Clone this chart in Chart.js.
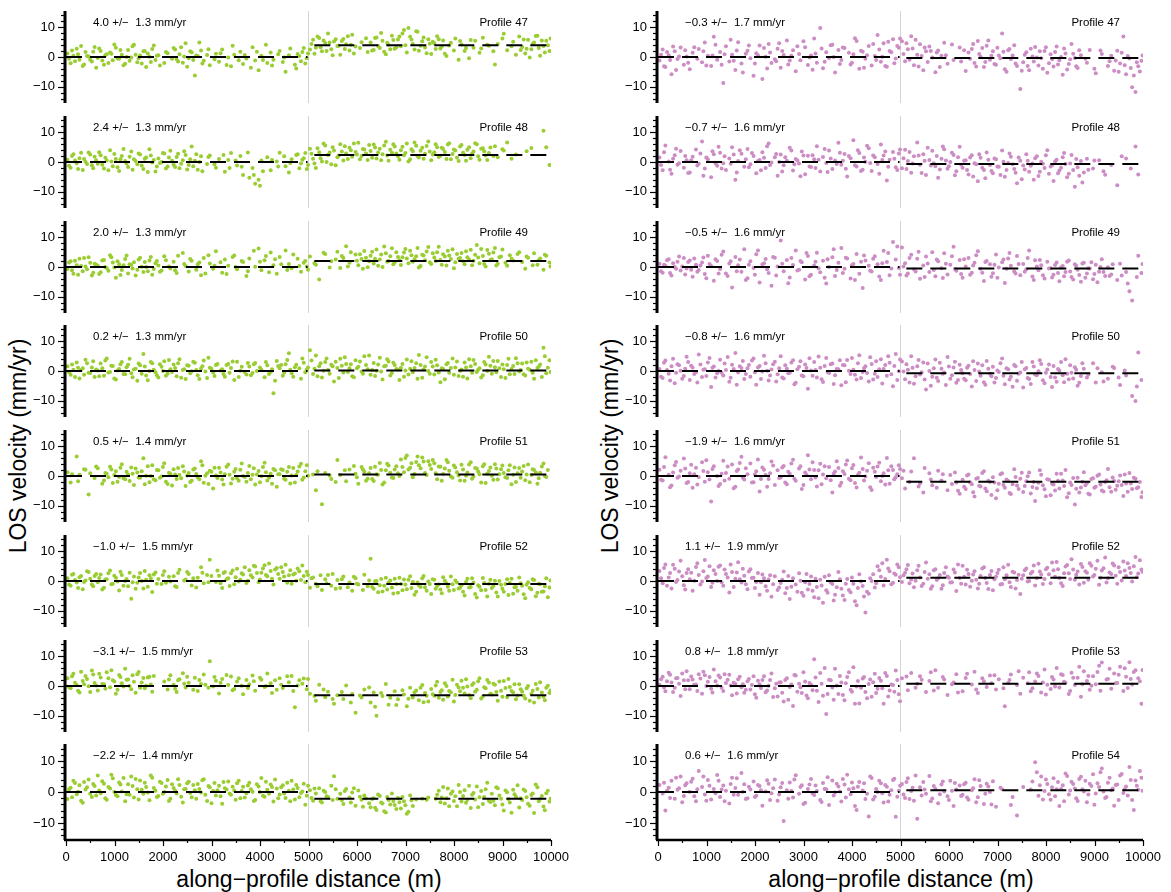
<!DOCTYPE html>
<html>
<head>
<meta charset="utf-8">
<script src="https://cdn.jsdelivr.net/npm/chart.js@4.4.1/dist/chart.umd.min.js"></script>
<style>
  body { margin: 0; background: #fff; width: 1171px; height: 892px; position: relative; overflow: hidden;
         font-family: "Liberation Sans", Arial, sans-serif; color: #000; }
  canvas { position: absolute; }
  .ytitle { position: absolute; font-size: 23px; white-space: nowrap; transform: translate(-50%, -50%) rotate(-90deg); }
  .xtitle { position: absolute; font-size: 23px; white-space: nowrap; transform: translate(-50%, -50%); }
</style>
</head>
<body>
<div class="ytitle" style="left:18px; top:446px">LOS velocity (mm/yr)</div>
<div class="ytitle" style="left:610px; top:446px">LOS velocity (mm/yr)</div>
<div class="xtitle" style="left:309px; top:879px">along−profile distance (m)</div>
<div class="xtitle" style="left:901px; top:879px">along−profile distance (m)</div>

<script>
/* ================= DATA ================= */
const profiles = [47, 48, 49, 50, 51, 52, 53, 54];

// step across x = 5000 m (right mean minus left mean), mm/yr
const greenStep  = [4.0, 2.4, 2.0, 0.2, 0.5, -1.0, -3.1, -2.2];
const greenError = [1.3, 1.3, 1.3, 1.3, 1.4, 1.5, 1.5, 1.4];
const pinkStep   = [-0.3, -0.7, -0.5, -0.8, -1.9, 1.1, 0.8, 0.6];
const pinkError  = [1.7, 1.6, 1.6, 1.6, 1.6, 1.9, 1.8, 1.6];

const yTickLabels = [-10, 0, 10];
const yMinorTicks = [-14, -12, -8, -6, -4, -2, 2, 4, 6, 8, 12, 14];
const xTickLabels = [0, 1000, 2000, 3000, 4000, 5000, 6000, 7000, 8000, 9000, 10000];
const xMinorTicks = [500, 1500, 2500, 3500, 4500, 5500, 6500, 7500, 8500, 9500];

// along-profile distance of the sampled points (m), two interleaved sets
const distance = [
  30, 96, 152, 221, 278, 345, 402, 466, 533, 590,
  655, 714, 783, 840, 908, 965, 1028, 1096, 1151, 1220,
  1280, 1346, 1401, 1470, 1527, 1596, 1652, 1721, 1778, 1845,
  1905, 1970, 2026, 2095, 2152, 2219, 2281, 2340, 2409, 2466,
  2530, 2591, 2657, 2716, 2784, 2840, 2909, 2965, 3034, 3091,
  3155, 3220, 3276, 3345, 3402, 3469, 3526, 3595, 3651, 3720,
  3780, 3846, 3901, 3971, 4028, 4094, 4151, 4220, 4277, 4346,
  4405, 4470, 4527, 4596, 4652, 4719, 4776, 4845, 4902, 4965,
  5030, 5094, 5152, 5221, 5277, 5345, 5402, 5470, 5526, 5595,
  5655, 5719, 5776, 5845, 5901, 5970, 6027, 6094, 6151, 6220,
  6280, 6344, 6402, 6470, 6526, 6595, 6651, 6720, 6777, 6845,
  6905, 6969, 7027, 7095, 7151, 7220, 7276, 7345, 7402, 7470,
  7530, 7594, 7652, 7720, 7776, 7845, 7901, 7970, 8027, 8095,
  8155, 8219, 8276, 8345, 8402, 8470, 8526, 8595, 8652, 8720,
  8780, 8844, 8902, 8970, 9026, 9095, 9151, 9220, 9277, 9345,
  9405, 9469, 9527, 9595, 9651, 9720, 9776, 9845, 9902, 9968
];
const distanceB = [
  63, 124, 186, 249, 311, 373, 434, 499, 561, 622,
  684, 748, 811, 874, 936, 996, 1062, 1123, 1186, 1249,
  1312, 1373, 1436, 1498, 1561, 1624, 1686, 1749, 1811, 1874,
  1937, 1998, 2061, 2123, 2186, 2250, 2311, 2374, 2437, 2498,
  2561, 2624, 2686, 2750, 2812, 2874, 2937, 2999, 3062, 3123,
  3187, 3248, 3311, 3373, 3436, 3497, 3561, 3623, 3686, 3750,
  3812, 3873, 3936, 3999, 4061, 4122, 4186, 4248, 4311, 4375,
  4437, 4498, 4562, 4624, 4686, 4747, 4811, 4873, 4934, 4990,
  5062, 5123, 5186, 5249, 5311, 5373, 5436, 5498, 5561, 5625,
  5687, 5748, 5811, 5873, 5936, 5998, 6061, 6122, 6186, 6250,
  6312, 6373, 6436, 6498, 6561, 6623, 6686, 6749, 6811, 6875,
  6937, 6998, 7061, 7123, 7186, 7248, 7311, 7373, 7436, 7500,
  7562, 7623, 7686, 7748, 7811, 7873, 7936, 7998, 8061, 8125,
  8187, 8248, 8311, 8373, 8436, 8498, 8561, 8623, 8686, 8750,
  8812, 8873, 8936, 8998, 9061, 9123, 9186, 9248, 9311, 9375,
  9437, 9498, 9561, 9623, 9686, 9748, 9811, 9873, 9935, 9990
];

// LOS velocity (mm/yr), left column: values at distance, then at distanceB
const green47 = [
  1.2, -2.1, 0.4, 2.8, -0.9, -3.0, 1.7, 0.2, -1.5, 3.4,
  -0.3, 2.0, -2.6, 0.9, 1.5, -1.1, 3.1, -0.6, 0.8, -2.3,
  2.4, -0.2, 4.1, -1.8, 0.5, 1.9, -3.4, 0.1, 2.7, -1.0,
  0.6, null, -2.0, 1.3, null, 3.0, -0.8, 0.9, -1.9, 4.6,
  -0.4, 1.6, -6.2, 0.3, 2.2, -1.3, 0.7, -2.8, null, 1.1,
  -1.6, 2.5, null, -0.2, -3.1, 0.8, null, 1.8, -2.4, -0.5,
  null, 3.3, -1.2, -4.5, 0.4, null, -2.0, 1.5, -0.9, null,
  2.0, -1.7, -5.0, 0.6, null, -2.6, 1.0, -1.4, 3.0, -0.4,
  2.5, 5.8, 3.1, 6.4, 1.9, 4.7, 7.9, 2.6, 5.2, 3.7,
  0.8, 6.1, 4.3, 2.2, 7.5, 3.5, null, 5.0, null, 1.7,
  4.9, 2.4, 6.6, 3.0, 5.5, 0.9, 4.1, 7.2, 2.8, 5.9,
  3.6, 9.1, 1.5, 6.8, 4.4, 8.7, 2.1, 5.3, 3.2, 6.0,
  1.0, 4.6, 7.0, 2.9, 5.6, 0.3, 3.9, null, 6.2, -0.9,
  4.2, 2.0, null, 5.7, 3.1, null, 1.4, 6.5, null, 3.8,
  null, -2.5, 4.4, null, 7.8, 2.3, null, 5.1, 0.8, 6.9,
  3.4, 1.2, 5.8, 2.6, 4.9, 7.2, 0.4, 3.7, 5.5, 2.0
];
const green47b = [
  -0.6, 2.2, -1.4, 0.9, 3.7, -2.5, 0.3, -0.9, 1.8, -3.6,
  2.9, -1.2, 0.6, -2.0, 1.1, 4.2, -0.5, 2.4, -2.8, 0.0,
  -1.3, 3.6, 0.8, -0.4, -2.2, 2.0, 1.2, -1.7, 3.9, 0.4,
  -2.9, null, 1.7, null, -0.6, 2.5, -1.5, 3.3, 0.2, -3.3,
  1.9, -1.0, 0.5, 4.9, -2.2, null, 2.6, null, -0.8, null,
  1.3, null, -2.7, null, 3.8, null, -1.1, null, 0.7, null,
  -3.6, null, 1.8, null, -1.0, 4.1, null, -2.9, null, 0.9,
  null, -0.2, null, 2.9, null, -3.9, 0.3, 1.7, -2.2, 1.2,
  4.4, 1.1, 6.9, 3.3, 5.6, 2.0, 4.9, 0.6, 6.0, 3.8,
  5.4, 2.7, 7.0, 4.1, 1.2, null, 3.0, null, 6.3, null,
  2.2, 6.4, 3.7, 8.1, 1.8, 4.8, 2.6, 5.7, 3.3, 6.9,
  7.9, 4.0, 9.8, 5.9, 2.5, 8.5, 3.8, 6.6, 1.3, 4.5,
  5.1, 2.7, 6.0, 3.5, 1.1, null, 4.8, 2.2, null, 5.4,
  null, 3.0, -0.4, null, 5.5, null, 2.9, null, 4.1, null,
  1.9, null, null, 6.2, null, null, 3.6, null, null, 2.4,
  5.9, 2.8, -0.2, 4.4, 7.1, 3.0, 5.6, 1.5, 4.0, 6.2
];
const green48 = [
  0.8, -1.9, 2.6, -0.4, 1.3, -2.7, 0.1, 3.2, -1.1, 1.8,
  -0.6, 2.3, -2.2, 0.5, 4.0, -1.4, 1.0, -3.0, 2.0, 0.3,
  -1.7, 3.5, 0.9, -0.8, 2.5, -2.4, 1.5, 4.3, -0.2, -3.2,
  1.2, 0.0, 2.9, -1.5, 3.8, -0.9, 1.7, -2.1, 0.6, 2.4,
  -1.0, 5.2, 0.4, -2.6, 1.9, null, -0.7, 2.2, null, -1.9,
  1.0, null, -3.3, 0.7, 3.0, null, -1.2, 2.0, -4.4, null,
  -5.3, -2.0, -7.3, -6.0, 0.5, null, 1.6, -2.8, null, 0.2,
  3.1, null, -1.4, -3.5, 0.9, null, 2.6, -0.5, 1.3, -2.4,
  4.5, 1.1, -2.0, 3.3, 0.2, 5.6, 2.4, -0.8, 3.9, 1.6,
  6.0, 0.5, 2.9, 4.8, 1.8, 3.4, 6.5, 2.0, 4.2, 0.7,
  3.7, 5.9, 1.2, 4.5, 2.6, 6.8, 0.4, 3.1, 5.2, 1.9,
  4.0, 2.3, 6.2, 0.9, 3.6, 5.5, 1.5, 4.8, 2.8, 6.9,
  0.6, 3.3, 5.0, 2.1, 4.4, 1.0, 6.3, 2.7, 3.9, 0.3,
  5.7, 2.4, 4.1, 1.3, 3.5, 6.0, 0.8, 4.6, 2.2, 3.0,
  null, 5.3, 1.6, null, 3.9, 6.6, null, null, 2.5, null,
  null, null, null, 4.7, null, null, null, 10.5, 5.0, -1.0
];
const green48b = [
  -1.3, 2.0, 0.5, -2.4, 3.1, 1.0, -0.7, 2.5, -2.1, 0.6,
  3.3, -0.9, 1.4, -2.8, 0.2, 2.7, -1.8, 0.9, 4.4, -0.5,
  1.8, -2.6, 0.3, 2.9, -1.2, 1.1, -3.4, 2.2, 0.7, -1.5,
  -0.3, 3.0, -2.2, 1.5, 0.4, -1.7, 2.8, -0.6, 3.6, -2.5,
  0.9, -1.4, 2.6, 0.0, -3.1, null, 1.7, null, -0.8, null,
  null, 2.4, null, -2.0, null, 0.5, null, -1.6, null, 3.2,
  null, -4.4, null, -8.0, -3.1, null, null, 0.7, null, -1.5,
  null, 1.9, null, -0.3, null, 2.4, -2.1, 0.8, 3.0, -1.0,
  2.8, -0.5, 4.6, 1.3, 6.2, 0.0, 3.2, 5.0, -1.1, 2.2,
  3.5, 5.3, 1.0, 4.0, 6.2, 2.5, 0.9, 4.4, 2.9, 5.7,
  1.4, 4.9, 3.2, 0.6, 5.6, 2.2, 4.1, 6.0, 2.9, 0.8,
  5.1, 3.0, 0.2, 4.3, 6.6, 2.0, 3.8, 1.1, 5.4, 3.5,
  2.5, 6.0, 1.7, 4.8, 3.4, 5.9, 0.9, 4.2, 1.5, 5.2,
  3.1, 0.4, 5.0, 2.8, 6.3, 1.9, 4.5, 3.6, 0.7, 4.9,
  2.0, null, null, 4.3, null, null, 1.1, null, null, null,
  null, 3.6, null, null, null, null, null, null, null, null
];
const green49 = [
  -0.7, 1.9, -2.3, 0.6, 2.8, -1.4, 0.2, 3.3, -2.9, 1.1,
  0.4, -1.8, 2.4, -0.3, 4.0, 1.5, -3.6, 0.9, -1.0, 2.7,
  -2.2, 0.7, 1.6, -0.9, 3.1, -1.7, 0.0, 2.2, -2.6, 1.3,
  0.5, -1.2, 3.6, null, -0.5, 1.8, -2.0, null, 4.7, 0.3,
  -1.5, 2.1, null, 0.9, -2.8, 3.0, null, 1.2, -0.6, 5.3,
  null, -1.9, 2.5, 0.4, null, 3.9, -0.8, null, 1.7, -3.0,
  2.9, null, 0.1, 6.2, -1.1, 2.3, null, 4.9, 0.6, -2.3,
  3.4, null, 5.6, 1.0, -0.4, null, 2.8, -1.6, 1.4, 0.2,
  3.5, null, 0.8, -4.2, null, 4.4, null, 1.9, null, 5.1,
  -0.3, 3.0, 7.0, 1.4, null, 4.2, 0.6, 2.7, 5.4, -0.1,
  3.8, 1.2, 5.9, 2.5, 0.0, 4.6, 2.0, 6.3, 1.5, 3.4,
  0.7, 4.9, 2.9, 5.5, 1.8, 3.6, -0.2, 4.1, 2.3, 6.7,
  1.0, 3.2, 5.0, 2.4, 4.3, 0.5, 3.9, 6.0, 1.6, 2.8,
  4.7, 0.9, 3.3, 5.8, 2.1, 7.4, 1.3, 3.7, 0.2, 4.5,
  2.6, 6.4, 1.1, 3.5, null, 0.4, 4.0, 2.2, null, 5.0,
  1.7, -0.6, 3.1, null, 4.6, 0.8, 2.9, -0.9, 3.8, 1.5
];
const green49b = [
  1.5, -1.1, 2.1, -2.6, 0.3, 3.0, -0.8, 1.4, -1.9, 0.8,
  -2.4, 2.2, 0.0, -1.3, 3.3, -0.2, 1.9, -2.7, 0.6, 3.9,
  0.9, -0.5, -2.9, 2.5, 0.1, 1.7, -1.4, 3.4, -0.7, 2.0,
  -1.6, null, 2.3, 0.2, null, -1.1, 3.8, null, 1.0, null,
  2.7, null, -0.9, 1.5, null, -2.2, 4.0, null, 0.4, null,
  1.6, null, -2.4, null, 3.4, 0.0, null, 2.0, null, -1.4,
  null, 5.5, null, 1.8, null, 3.7, -1.8, null, 2.6, null,
  0.9, null, -1.0, null, 4.2, null, 0.3, null, 2.0, -0.9,
  null, 1.3, null, null, 4.8, null, -0.2, null, 2.5, null,
  3.7, null, 0.2, 5.0, null, 2.1, 4.3, -0.6, 3.1, 1.9,
  5.1, 2.8, 0.4, 4.2, 6.9, 1.8, 3.6, 0.9, 5.0, 2.3,
  3.3, 6.1, 1.3, 4.0, 2.6, 6.4, 0.3, 3.9, 5.2, 1.6,
  4.6, 2.0, 6.8, 0.8, 3.5, 5.5, 2.7, -0.4, 4.4, 3.0,
  1.9, 5.3, 2.5, 0.6, 4.1, 3.2, 6.1, 1.0, 5.7, 2.4,
  4.9, 0.5, 3.3, 5.9, 1.4, null, 2.8, null, 4.4, null,
  null, 3.5, null, 0.6, null, 2.4, null, 4.1, null, 0.2
];
const green50 = [
  1.6, -1.3, 0.4, 2.9, -2.5, 0.9, 3.8, -0.6, 1.2, -2.0,
  0.2, 2.5, -1.6, 4.2, -0.3, 1.7, -2.9, 0.7, 3.0, -1.1,
  2.1, -0.8, 0.5, -3.3, 1.9, 5.7, -1.5, 0.0, 2.6, -0.4,
  -2.2, 1.4, 3.3, -0.9, 0.6, 2.2, -1.8, 4.0, 0.3, -2.7,
  1.8, -0.1, 2.8, -1.4, 0.8, 3.5, -2.4, 1.1, -0.5, 2.0,
  null, 0.6, -1.9, 2.4, 1.0, -3.0, 3.1, 0.1, null, -1.2,
  1.5, -0.7, 2.7, null, 0.4, -2.1, 1.9, -0.3, -7.5, 3.4,
  0.9, -1.6, 2.3, 6.0, -0.8, 1.3, null, -2.6, 2.8, 0.5,
  7.0, -1.0, 5.2, 1.6, -2.2, 3.0, 0.3, 2.1, -3.5, 1.0,
  4.1, -0.5, 2.4, 0.9, -1.8, 3.6, 1.4, -0.2, 5.0, 0.6,
  -1.3, 2.7, 0.1, 4.5, -2.9, 1.8, 3.2, -0.7, 2.0, 0.4,
  1.1, -1.9, 3.9, 0.8, -0.4, 2.6, 5.4, -2.3, 1.5, 0.0,
  3.0, -1.2, 1.9, -3.8, 0.7, 2.3, -0.6, 4.2, 1.2, -1.7,
  0.5, 2.9, -2.5, 1.6, 3.7, -0.3, 0.9, -1.4, 2.2, 4.8,
  -0.9, 1.3, 3.4, -2.0, 0.6, 2.0, -1.1, 1.7, 4.3, -0.2,
  2.5, -1.5, 0.8, 3.1, -2.6, 1.0, 2.2, 7.8, -0.8, 3.6
];
const green50b = [
  -0.4, 2.2, -2.0, 1.1, 0.3, -1.3, 2.6, -0.7, 3.3, 0.5,
  -1.8, 0.9, 3.5, -0.5, 1.8, -2.5, 0.2, 2.3, -1.0, 1.3,
  4.1, -2.1, 0.8, 2.5, -0.9, 1.5, -3.1, 3.0, 0.4, -1.4,
  2.3, 0.0, -1.6, 3.7, -0.3, 1.0, 2.6, -2.3, 0.6, 1.9,
  -0.8, 3.1, 0.3, -2.7, 1.6, -0.2, 4.5, 0.8, -1.7, 2.4,
  0.2, -1.0, 2.0, -0.6, 3.2, null, -2.0, 1.4, -0.3, 2.7,
  -1.4, 2.3, 0.0, 1.2, null, 3.0, -1.0, 0.6, -3.3, 1.7,
  2.0, -0.6, 3.7, 0.4, -1.9, 2.1, 0.9, 4.2, -0.4, 1.2,
  3.5, 0.8, -1.8, 2.6, 0.1, 4.2, -0.9, 1.6, 3.1, -2.4,
  1.8, 4.6, -0.3, 2.3, -2.1, 0.9, 3.2, -0.9, 2.0, 5.2,
  0.3, -1.7, 2.2, -0.2, 1.6, 4.0, -1.5, 2.8, 0.7, -3.0,
  2.4, 0.2, -1.2, 3.3, 1.0, -2.6, 2.0, 0.5, 4.6, -0.9,
  1.5, 3.8, -0.5, 0.9, -2.8, 2.7, 1.0, -1.3, 3.2, 0.1,
  -1.9, 1.2, 4.0, -0.6, 2.4, 0.4, -2.2, 3.0, 0.0, 1.8,
  3.4, -0.4, 0.9, 2.2, -2.4, 4.1, 0.7, -1.0, 2.6, 0.3,
  -1.1, 2.9, 0.4, -0.6, 3.6, 1.4, -2.0, 5.0, 1.1, -0.3
];
const green51 = [
  1.3, -2.2, null, 6.6, 0.4, null, 2.1, -6.2, null, -0.7,
  2.6, null, -1.5, 0.8, 3.1, -2.4, 1.6, -0.3, 4.0, -1.1,
  0.5, 2.9, -3.0, 1.2, -0.6, 6.0, 0.1, -2.1, 3.6, -1.4,
  1.9, -0.2, 4.3, -2.7, 0.7, 2.3, -1.0, 0.3, 3.3, -3.4,
  1.0, -1.6, 2.5, -0.4, 5.0, -2.3, 0.9, 1.8, -4.2, 0.2,
  2.8, -1.2, 0.6, 3.9, -2.5, 1.4, -0.8, 2.1, 0.0, -1.9,
  3.4, 0.4, -2.9, 1.7, -0.1, 4.5, -1.5, 0.8, 2.4, -3.6,
  0.6, 2.0, -1.3, 3.0, 0.2, -2.2, 1.5, 4.1, -0.5, 3.6,
  null, 0.5, -4.8, null, -9.5, 1.0, null, -1.0, null, 5.4,
  0.3, null, -1.8, 2.2, null, 0.8, -2.6, 3.0, 1.4, -0.9,
  2.7, -1.7, 0.6, 4.4, -2.9, 1.9, 3.5, -0.5, 2.2, 0.9,
  5.6, 1.3, 6.9, 2.8, -0.4, 4.7, 3.6, 6.2, 1.0, 5.0,
  2.4, 4.3, -1.1, 3.1, 0.7, 5.4, 1.8, -0.6, 2.9, 0.2,
  3.8, -1.6, 1.2, 4.6, -0.2, 2.5, 0.6, 3.3, -2.4, 1.7,
  0.1, 4.0, -1.2, 2.3, 1.0, -0.7, 3.6, 0.4, -2.0, 2.7,
  1.5, -1.4, 3.9, 0.3, 2.0, -2.6, 1.1, 4.2, -0.3, null
];
const green51b = [
  null, 0.6, null, -1.8, null, 2.3, null, 0.9, null, 3.2,
  null, -2.6, 1.0, -0.4, 2.2, 0.3, -1.9, 2.8, -0.8, 1.4,
  -1.7, 0.8, 2.5, -0.5, 1.6, -2.8, 3.3, 0.0, -1.1, 2.0,
  -0.6, 3.0, -1.9, 1.1, -3.2, 0.5, 2.7, -0.8, 1.5, 0.2,
  -2.0, 2.2, 0.7, -1.1, 3.6, 0.1, -2.7, 1.4, 2.8, -0.7,
  1.2, -2.9, 3.1, 0.4, -0.9, 2.4, -1.6, 4.2, -0.3, 1.0,
  -1.1, 2.6, 0.5, -2.1, 3.0, 1.3, -0.6, -2.6, 1.9, 0.6,
  2.3, -0.9, 1.4, -2.5, 2.7, 0.3, 3.2, -1.3, 1.6, 0.1,
  null, null, 1.6, null, null, null, 0.2, null, -2.0, null,
  null, 1.9, null, null, 3.4, -0.4, null, 2.2, -1.6, 0.9,
  -1.0, 3.1, 0.4, 2.0, -2.2, 4.1, 1.1, -0.7, 3.3, 0.0,
  3.0, 6.1, 2.2, 4.3, 0.7, 6.6, 2.6, 4.9, 0.3, 3.7,
  5.4, 0.9, 3.2, -1.6, 2.5, 4.6, -0.2, 3.5, 1.3, -1.5,
  2.2, 0.1, 3.9, -0.9, 2.7, 1.5, -2.2, 4.0, 0.8, 2.9,
  -1.3, 2.5, 0.6, 3.5, -0.4, 1.9, -2.8, 2.9, 0.9, -0.6,
  3.4, 0.5, -2.1, 2.3, 1.2, -0.8, 3.2, 0.0, 2.0, null
];
const green52 = [
  0.9, -1.6, 2.4, -0.5, 1.3, -2.8, 0.2, 3.0, -1.2, 1.7,
  -0.4, 2.2, -2.3, 0.6, 3.5, -0.9, 1.1, -3.2, 2.0, 0.0,
  -1.8, -6.0, 1.5, -0.6, 2.7, -2.5, 0.4, 1.9, -3.7, 2.9,
  0.7, -1.0, 3.3, null, -0.2, 1.6, -2.0, 3.8, null, 0.5,
  2.4, -1.5, null, 1.1, 4.6, -0.8, 2.0, 7.2, null, -0.3,
  1.8, -2.4, 3.0, 0.9, 2.6, -1.1, 4.1, 0.4, 2.2, -0.7,
  3.6, 1.2, 4.9, -0.4, 2.8, 5.3, 1.6, 3.4, -1.2, 4.4,
  0.8, 3.0, 5.5, 1.9, -0.9, 2.5, 4.2, 0.3, 1.7, 3.1,
  -2.3, 1.2, -0.9, null, -3.0, 0.6, 2.0, -1.6, null, 0.3,
  -2.4, 1.5, null, -0.5, -3.3, 0.9, -1.2, null, 2.1, -1.8,
  7.5, -2.6, 0.0, -1.4, -3.5, 1.1, -0.6, -2.2, 0.8, -4.0,
  -1.0, 0.5, -2.8, 1.6, -0.3, -3.6, -1.5, 0.9, -2.1, -0.2,
  -4.4, 0.4, -1.7, -2.9, 1.3, -0.8, -3.3, -1.1, 0.2, -2.5,
  -1.4, -4.9, 0.8, -2.0, -0.5, -5.6, -1.9, 1.0, -3.0, -0.9,
  -2.4, 0.1, -5.2, -1.3, -3.6, 0.6, -0.7, -4.3, -2.0, 1.2,
  -1.6, -5.8, -0.4, -2.8, 0.3, -4.0, -1.1, -3.5, 0.9, -2.2
];
const green52b = [
  -1.2, 2.1, 0.3, -2.4, 1.7, -0.3, 3.3, 0.8, -1.8, 2.4,
  1.0, -2.9, 0.5, 2.6, -1.1, 1.8, -0.2, 3.1, -1.6, 0.7,
  2.8, -0.4, -2.6, 1.2, 0.0, 3.4, -1.9, 0.9, 2.2, -0.9,
  null, 2.0, -0.6, 1.4, null, -1.8, 2.7, null, 0.2, 3.0,
  null, 0.9, -2.2, null, 2.8, null, -0.4, 1.7, null, 3.5,
  -0.8, 2.7, 0.6, -1.7, 3.5, 1.3, -0.2, 2.6, 4.6, 0.1,
  1.9, 5.1, 2.7, 0.5, 4.2, 2.0, 5.9, 0.8, 3.9, 2.4,
  4.6, 1.5, -0.6, 3.6, 2.2, 0.1, 3.3, 5.2, -0.4, 2.0,
  0.9, null, -1.8, 1.9, null, -0.8, null, 2.4, -2.6, null,
  0.6, null, -2.1, null, 1.4, -0.9, null, -3.0, null, 0.2,
  -2.0, -0.1, -3.8, 0.7, -1.6, -2.9, 0.2, -4.2, -1.0, 1.1,
  -3.1, -1.2, 0.4, -2.4, -4.6, -0.5, -2.0, 1.7, -3.3, -1.0,
  0.6, -2.6, -1.1, -4.1, 0.1, -1.9, 1.5, -3.0, -0.5, -2.3,
  -3.6, -0.3, -2.2, 0.9, -4.4, -1.4, -3.1, -0.7, -5.2, 0.4,
  -1.7, -3.9, 0.0, -2.6, -1.0, -4.7, 0.8, -2.1, -3.3, -0.8,
  -4.5, -1.3, -2.4, 0.6, -5.1, -0.9, -3.6, -1.8, -5.5, 0.2
];
const green53 = [
  2.6, -0.8, 4.1, 0.3, -2.2, 1.7, 3.4, -0.1, 5.2, 1.0,
  -1.5, 2.9, 0.6, 4.6, -0.4, 1.9, -2.6, 3.7, 0.9, 5.8,
  2.2, -1.1, 1.4, 4.0, -0.6, 2.7, 0.1, 3.1, -1.9, null,
  null, null, 1.5, -1.2, 3.6, 0.4, -2.0, 2.3, 4.3, -0.5,
  1.1, null, 2.8, -1.7, 0.7, 3.9, null, 8.3, -0.2, 1.8,
  -2.5, 2.4, null, 0.3, 3.2, -1.0, 1.5, null, -2.8, 2.0,
  0.6, 3.5, -1.6, null, 2.1, -0.3, 4.2, 0.9, null, -1.3,
  2.6, -0.7, null, 1.3, 3.4, -7.2, 0.2, null, 2.5, -1.1,
  -2.6, null, -5.0, 0.4, null, -3.8, -1.9, null, -6.0, -3.1,
  null, -4.4, 0.2, null, -2.7, -9.0, null, -3.9, -1.2, null,
  -5.6, -2.2, -10.0, null, -3.4, 0.7, -6.3, null, -1.8, -4.5,
  null, -2.9, -6.8, -0.6, -3.9, -1.5, -4.8, 0.3, -2.4, -5.2,
  -1.0, -3.3, 1.4, -2.0, -4.6, 0.0, -1.7, 2.1, -3.0, -0.5,
  1.8, -2.5, -0.2, -4.1, 0.9, -1.3, 2.6, -3.5, -0.8, 1.2,
  -2.9, 0.4, -5.0, -1.6, 1.7, -3.8, -0.3, -2.2, -4.5, 0.6,
  -1.9, -4.2, 0.0, -2.7, -5.6, -1.0, 1.3, -3.6, -0.6, -2.4
];
const green53b = [
  -0.4, 3.3, 1.1, -1.6, 4.8, 0.6, 2.4, -2.0, 3.9, 0.2,
  4.1, 0.7, -0.9, 2.6, 5.3, 1.5, -1.3, 3.0, -0.2, 2.1,
  0.0, 3.6, -2.3, 4.7, 1.2, -0.8, 2.9, 0.5, 3.4, null,
  null, null, null, 2.2, null, -0.9, 1.9, null, 0.8, 3.1,
  null, -1.3, null, 2.0, null, 0.4, -0.6, null, 3.0, null,
  1.1, null, 3.7, null, -1.4, null, 2.6, 0.1, null, -0.7,
  null, 1.6, null, 2.8, null, 0.0, null, -2.4, 1.9, null,
  0.4, null, 3.3, null, -1.7, null, 1.9, 0.8, null, 2.4,
  null, -3.4, null, null, -1.2, null, null, -4.4, null, null,
  -2.0, null, null, -5.6, null, null, -3.2, null, null, -0.5,
  null, -7.0, null, -2.4, null, null, -4.0, null, -6.4, null,
  -1.4, null, -4.3, null, -2.1, null, -0.6, -5.5, -3.3, null,
  -2.8, 0.2, -4.0, -1.4, 0.9, -3.5, -2.1, -5.2, 0.4, -1.8,
  -0.6, 2.3, -3.0, 0.3, -1.9, 1.6, -4.2, -0.4, 2.0, -2.6,
  0.8, -2.0, 1.5, -3.6, -0.7, 2.4, -1.7, 0.6, -3.2, -1.1,
  -3.3, -0.8, -5.0, -1.6, 0.7, -3.9, -2.2, -4.8, 0.1, -1.5
];
const green54 = [
  -2.3, 1.4, 3.6, -0.7, 2.2, -3.5, 0.8, 4.0, -1.6, 1.9,
  5.3, -0.4, 2.7, -2.5, 1.1, 4.4, -1.0, 3.1, 0.2, -3.0,
  2.5, 5.0, -1.8, 0.9, 3.7, -0.6, 1.6, -2.7, 4.6, 0.4,
  -1.3, 2.9, 0.0, 3.9, -2.2, 1.3, -0.5, 2.3, -3.4, 1.0,
  3.3, -1.7, 0.6, 2.6, -0.2, 4.1, -2.9, 1.5, 0.3, -1.1,
  2.0, -3.8, 1.2, 3.4, -0.9, 0.5, 2.8, -2.0, 1.7, -0.4,
  3.0, 0.1, -2.6, 1.8, 4.5, -1.5, 0.7, 2.4, -3.1, 1.1,
  -0.8, 2.2, -1.9, 0.4, 3.6, -2.4, 1.3, -0.3, 2.7, -1.2,
  0.6, -2.8, -0.5, 1.2, -3.4, 0.0, -1.6, 2.0, 5.1, -2.2,
  -0.6, -3.9, 1.0, -1.8, -0.2, -4.4, 0.5, -2.5, -1.1, null,
  -4.9, -2.0, -5.8, -1.3, -3.7, -6.6, -2.6, -0.5, -4.2, -1.9,
  -5.3, -3.0, -7.0, -1.1, -4.5, -2.4, null, -2.2, null, -1.8,
  null, null, -0.9, -3.3, 1.6, -2.0, -4.6, 0.2, -1.4, 2.3,
  -3.1, 0.6, -2.5, -5.2, -0.3, 1.8, -1.7, -3.9, 0.9, -2.8,
  -0.6, -4.3, 1.2, -2.2, -6.0, -0.1, -3.4, 0.7, -1.5, -5.0,
  -2.6, 0.3, -3.8, -1.0, -6.8, 1.5, -2.3, -4.7, -0.4, -3.1
];
const green54b = [
  0.9, -1.7, 2.9, 0.1, -2.8, 3.2, 1.5, -0.6, 2.6, -1.1,
  0.5, 3.5, -2.0, 1.6, 5.6, 0.0, -1.4, 2.4, 4.5, -0.7,
  -0.9, 1.9, 4.2, -2.4, 0.7, 3.0, -0.2, 5.3, 1.3, -1.6,
  3.3, -0.6, 1.8, -2.9, 2.5, 0.4, 4.1, -1.5, 0.9, 2.8,
  -0.3, 2.3, -2.2, 1.0, 3.8, -0.9, 1.9, -3.6, 2.9, 0.6,
  -1.4, 3.2, 0.8, -0.5, 1.7, -2.5, 3.6, 0.3, -1.8, 2.1,
  0.9, -2.9, 2.5, 0.0, -1.2, 3.3, -0.6, 1.6, 4.0, -2.0,
  1.5, -0.5, 3.0, -3.0, 0.8, 2.3, -1.7, 0.2, -4.1, 2.0,
  -1.9, 1.1, null, -3.0, 0.4, -1.4, null, -2.6, 0.9, null,
  -2.7, 0.3, null, -3.4, 1.2, null, -1.5, -4.8, -2.1, -3.6,
  -2.3, -5.1, -0.8, -3.4, -6.2, -1.6, -4.0, -2.9, -5.5, -3.3,
  -1.6, -4.3, -6.4, -2.7, null, null, null, null, -2.5, null,
  null, -2.2, 0.4, -1.8, -3.7, 1.1, -0.6, -2.9, -4.6, 0.0,
  -1.3, -3.5, 2.0, -0.9, -2.4, -4.9, 0.3, -1.6, 3.0, -3.2,
  -2.8, 1.5, -1.1, -4.0, 0.5, -2.3, -6.7, -0.7, 2.2, -2.0,
  0.8, -1.7, -4.4, -0.5, 2.4, -3.0, -1.3, -5.9, 0.4, -2.2
];

// LOS velocity (mm/yr), right column: values at distance, then at distanceB
const pink47 = [
  -1.2, 2.5, -3.4, 0.6, -5.8, 1.9, -0.7, 3.2, -2.6, 0.2,
  -4.1, 1.4, null, 2.7, -1.8, 4.9, 0.4, -3.0, 6.8, -0.9,
  1.7, -8.8, 3.6, -1.5, 0.8, -4.4, 5.0, -2.2, null, 2.1,
  -0.4, -6.3, 1.3, 3.9, -7.4, 0.1, 4.4, -2.0, -0.8, 2.8,
  -3.6, 0.7, 5.6, -1.2, 2.3, -4.8, 1.0, null, 3.3, -2.7,
  0.5, 6.2, -1.9, 9.8, -3.8, 1.6, -0.3, 4.1, -5.2, 2.4,
  -1.0, 3.0, null, -2.5, 0.9, 5.4, -4.0, 1.8, -0.6, 3.7,
  -2.9, 0.3, 7.4, -1.6, 4.6, -3.3, 2.0, 6.0, -0.5, 3.1,
  5.3, -1.4, 2.6, 7.0, -2.8, 0.8, 4.3, -4.5, 1.9, 3.5,
  -0.2, -5.1, 2.2, 0.4, 4.8, -2.3, null, -1.0, null, 3.2,
  null, -4.7, 1.5, 2.7, -2.0, 5.4, 0.1, -3.4, 3.8, -0.9,
  1.9, -2.6, 0.5, 7.9, -4.1, 2.3, -0.7, 4.0, -3.0, -10.8,
  -1.8, 1.6, -4.5, 0.2, 3.4, -2.9, -0.4, 2.0, -5.3, 0.9,
  -3.2, 3.5, -1.1, -6.0, 1.2, -2.4, 4.4, -0.3, -3.7, 0.6,
  null, -1.9, 2.4, null, -5.5, null, 1.0, null, -3.0, 0.4,
  -4.6, 2.1, -2.2, 6.9, -5.8, -0.5, -10.2, -11.8, -3.1, -1.3
];
const pink47b = [
  0.8, -3.1, 1.7, -1.0, 3.5, -4.4, 0.2, null, 2.3, -1.9,
  null, 3.3, -0.6, null, 1.9, -2.9, null, 0.5, 4.1, null,
  -2.6, 0.9, null, 5.8, -1.3, 2.2, null, -5.2, 1.1, 3.9,
  null, -2.2, 0.6, null, 3.0, -3.9, 1.5, null, -1.4, 4.6,
  2.0, null, -2.5, 0.4, null, 3.6, -1.1, 5.3, null, -0.2,
  -4.3, 1.2, null, 2.9, -1.6, null, 4.0, 0.0, null, -2.4,
  3.2, null, 1.4, -1.9, 6.3, null, 2.1, -3.6, 0.6, null,
  4.4, -1.0, 2.5, 0.1, -3.0, 5.1, 1.6, -2.1, 3.7, 6.2,
  1.0, 4.6, -0.9, 2.9, 5.8, -3.2, 0.3, 3.2, -1.7, 2.0,
  null, 1.5, -3.4, null, 0.6, null, 4.2, null, null, -1.5,
  2.3, null, -0.6, 4.4, -3.2, 1.0, 3.0, -1.7, 5.6, 0.4,
  -2.4, 3.1, -0.4, 1.8, -5.0, 2.7, 0.5, -2.2, null, -4.6,
  0.8, -3.0, 2.8, -1.5, -0.2, 1.9, -4.0, 3.3, -2.1, -0.8,
  1.7, -2.5, 0.0, 2.9, -4.2, -0.8, 1.1, -3.1, 2.3, null,
  -0.6, null, null, -4.0, null, 2.2, null, null, -1.4, null,
  -1.2, -5.0, 1.4, -2.8, 0.3, -3.7, -6.2, -1.8, -4.9, 0.5
];
const pink48 = [
  1.5, -2.8, 5.6, 0.2, -4.0, 2.3, -0.9, 3.7, -1.9, 0.6,
  -3.5, 1.8, 4.2, -0.6, 6.9, -2.2, 0.9, -5.1, 2.6, -1.3,
  3.1, -0.4, -2.7, 1.2, 5.0, -6.0, 0.3, 2.8, -1.6, 4.4,
  -0.8, 2.0, -3.8, 0.7, 3.3, -2.0, 6.2, -0.2, 1.6, -4.6,
  2.5, -1.1, 0.4, 4.8, -2.9, 1.0, -0.5, 3.5, -4.1, 2.1,
  -1.7, 0.9, 5.3, -3.2, 1.7, -0.3, 3.9, -2.4, 0.5, 6.5,
  -0.9, 2.7, -4.9, 1.3, 7.3, -1.5, 3.0, -2.6, 0.1, 4.6,
  -3.0, 1.6, -0.7, 5.9, 2.2, -6.2, 0.8, 3.4, -1.8, 2.9,
  -2.1, 4.1, 0.3, -3.6, 1.9, 6.6, -0.9, 2.6, -4.4, 0.7,
  3.8, -1.4, -5.3, 1.1, 4.3, -2.3, 0.0, 2.4, -3.1, 5.1,
  -1.9, 0.6, -4.2, 2.3, -0.4, -6.5, 1.4, -2.7, 3.2, -1.0,
  -3.8, 0.9, -1.6, 3.9, -5.0, -0.3, 1.8, -2.4, -7.2, 0.4,
  -1.2, 2.6, -3.3, -0.5, 1.3, -4.7, 0.1, -2.0, 4.0, -1.5,
  -6.4, 0.8, -2.9, 1.6, -0.7, -4.0, 2.4, -8.3, -1.8, 0.3,
  -3.5, 1.1, null, -2.2, null, 0.6, null, -4.3, null, -1.0,
  null, -7.8, null, null, 1.2, null, null, 5.2, -4.2, null
];
const pink48b = [
  -1.0, 3.3, null, -2.6, 1.1, 4.5, -0.4, null, 2.0, -3.7,
  0.6, null, -1.2, 2.9, -4.6, 1.5, null, 3.6, -0.5, 5.1,
  -2.2, 1.9, null, -0.6, 2.5, -3.5, 4.0, null, 0.9, -1.8,
  3.0, null, 0.3, -2.8, 1.4, 5.3, -1.0, null, 2.7, 0.0,
  -3.2, 1.6, null, 3.9, -0.8, 0.5, -4.8, 2.2, null, -1.5,
  2.3, -2.0, 0.8, null, 4.4, -3.4, 1.2, null, -0.7, 3.1,
  0.4, -2.3, 2.0, null, -1.1, 4.0, -3.0, 1.5, 5.5, -0.3,
  2.2, null, -4.0, 0.7, 3.5, -1.6, null, 1.1, -2.7, 4.2,
  1.3, -2.4, 3.4, -0.5, null, 2.2, -3.7, 0.4, 4.8, -1.2,
  -0.4, 2.0, -2.5, 5.2, 0.5, -1.4, 3.1, -4.5, 1.6, -0.9,
  0.4, -2.7, 1.5, -4.9, -0.8, 2.6, -1.9, -5.5, 0.8, -3.0,
  1.2, -1.5, -4.4, 0.1, -2.7, 2.9, -0.8, -3.6, 1.5, -5.8,
  -2.5, 0.4, -1.3, -6.0, 1.9, -3.3, -0.6, 2.3, -4.0, -1.1,
  0.2, -3.8, -1.9, 3.0, -5.1, -0.5, -2.7, 1.0, -4.6, -6.9,
  null, -2.6, null, 0.5, null, null, -3.1, null, null, null,
  null, null, 1.9, null, null, -2.2, null, null, null, null
];
const pink49 = [
  1.1, -1.9, 0.4, 2.6, -2.9, 0.0, 1.8, -1.2, 3.0, -0.5,
  2.2, -3.3, 0.8, -1.0, 1.5, -2.4, 3.8, 0.3, -4.6, 2.0,
  -0.7, 5.2, -2.2, 1.2, -6.9, 3.4, 0.6, -1.6, 6.0, -3.8,
  1.9, -0.3, 4.3, -5.2, 0.9, 2.7, -2.0, -6.3, 3.1, 0.2,
  8.9, -1.4, 2.4, -3.5, 0.7, 5.6, -0.9, 1.6, -4.2, 3.7,
  -2.6, 0.5, 4.8, -1.8, 2.1, -5.6, 0.0, 3.3, -3.0, 1.4,
  6.4, -0.6, 2.9, -3.9, 1.0, 4.4, -2.3, -7.1, 2.2, 0.4,
  -1.5, 3.6, 0.9, -4.4, 5.5, 1.7, -2.8, 8.4, 2.5, -0.3,
  6.6, 1.3, -2.2, 4.1, -0.8, 2.8, -4.0, 0.5, 3.5, -1.7,
  5.0, -3.1, 1.9, -0.4, 4.6, -2.5, 0.8, 6.8, -1.3, 2.4,
  -3.6, 0.2, 3.0, -1.9, 1.4, 5.3, -0.6, -4.7, 2.0, 0.9,
  -2.1, 4.2, -0.2, 1.6, -5.4, 2.9, 0.4, -1.5, 3.7, -2.8,
  1.0, -0.8, 5.6, -3.2, 2.3, -1.1, 0.6, -3.9, 1.8, -0.4,
  -2.6, 1.5, -4.8, 0.3, -1.7, 2.2, -3.4, 0.9, -0.9, -5.0,
  1.4, -2.2, -0.5, -4.1, 0.8, -1.6, 2.6, -3.0, -0.1, -2.5,
  null, -4.4, 1.1, null, -1.7, -8.2, -11.3, null, 3.8, -2.0
];
const pink49b = [
  -1.4, 0.8, 2.3, -2.0, 1.3, -0.6, 3.5, 0.2, -2.5, 1.7,
  -0.9, 2.9, -1.6, 0.5, 3.2, -3.8, 1.0, null, 2.6, -2.2,
  4.1, null, -3.0, 1.9, null, -1.4, 2.5, null, -4.4, 0.8,
  null, -2.6, 5.6, null, 1.3, -0.8, null, 3.4, -2.9, null,
  1.1, null, -5.5, 3.0, null, -1.2, 2.0, null, 4.7, -3.1,
  null, 1.8, -0.4, null, -3.6, 2.6, null, 6.0, -1.0, null,
  -2.0, 3.1, null, 0.6, -4.4, null, 1.8, 3.9, null, -1.3,
  2.8, null, -3.2, 1.3, null, 4.7, -0.5, null, 6.9, -2.6,
  0.2, -2.9, 3.0, null, -1.5, 5.1, null, -3.4, 1.2, null,
  -1.0, 2.5, null, -3.7, 1.1, null, 3.6, -0.7, null, -2.4,
  2.6, null, -2.6, 0.5, 4.0, null, -1.9, 1.7, null, -3.3,
  0.8, -3.6, null, 2.5, -0.6, 4.7, null, -2.2, 1.0, null,
  -1.6, 3.0, null, -4.4, 0.2, 2.4, -2.8, null, -0.5, -3.5,
  0.7, -2.0, -0.2, -3.1, 1.8, -1.5, -4.2, 0.4, -2.7, 1.2,
  -3.6, -0.4, 1.6, -2.4, -5.1, 0.0, -1.7, null, -3.0, 0.9,
  null, null, -2.9, null, -5.6, null, null, -3.4, null, 1.0
];
const pink50 = [
  0.7, -2.4, 3.5, -0.9, 1.6, -4.1, 2.3, 0.1, -1.7, 4.8,
  -3.0, 1.2, -0.4, 5.6, -2.0, 0.6, 2.9, -5.4, 1.5, -0.8,
  3.8, -1.5, 0.3, -3.6, 2.1, 6.1, -0.5, 1.0, -2.7, 0.9,
  -1.9, 4.2, -4.6, 1.7, -0.2, 2.6, -3.2, 0.5, 3.1, -1.1,
  5.0, -2.5, 0.8, -0.6, 3.6, -4.0, 1.4, -1.5, 2.2, -6.0,
  0.2, 3.0, -2.2, 1.1, -3.7, 4.4, -0.7, 2.5, -1.4, 0.6,
  -4.8, 1.9, 3.7, -1.0, 0.4, -2.9, 5.3, -0.3, 1.6, -3.5,
  2.4, -0.9, -2.0, 4.0, 0.7, -1.6, 2.8, -5.1, 5.7, -0.1,
  3.2, -2.8, 0.4, 5.0, -4.3, 1.6, -1.2, 2.9, -6.2, 0.0,
  -1.9, 3.9, -3.4, 0.8, -0.5, 4.7, -2.6, 1.2, -4.0, 2.1,
  -0.8, -3.1, 1.8, -5.2, 0.3, 2.5, -1.6, -3.8, 3.4, -0.9,
  1.4, -2.4, -0.3, 4.2, -4.5, 0.6, -1.9, 2.0, -3.3, -0.5,
  -5.6, 1.0, -2.7, 3.0, -1.2, -0.1, 2.4, -4.1, 0.5, -2.0,
  1.7, -3.6, 0.2, -1.4, 4.0, -2.8, -0.6, 1.3, -5.0, -1.7,
  0.8, -2.2, null, 2.6, -3.9, null, -0.4, null, -2.6, null,
  1.0, null, -4.7, null, -1.5, null, -8.4, -10.1, 6.2, -3.0
];
const pink50b = [
  -1.9, 2.8, 0.3, -3.2, 4.1, -0.6, 1.9, -2.6, 0.8, 3.0,
  1.8, -1.0, -3.9, 2.2, 0.4, -1.7, 4.4, 1.1, -2.2, 0.0,
  -0.6, 2.5, 4.7, -2.3, 0.7, -4.6, 1.6, 3.4, -1.0, 2.0,
  3.5, -0.4, 1.2, -2.7, 5.1, 0.1, -1.5, 2.3, -3.5, 0.9,
  -2.2, 1.9, -0.8, 2.9, -4.5, 0.6, 3.3, -1.8, 1.0, 4.3,
  -1.6, 0.3, 4.9, -2.8, 1.7, -0.3, 2.3, -4.4, 0.7, 3.6,
  2.0, -3.8, 0.1, 4.4, -1.3, 2.6, -2.4, 0.9, -0.7, 4.6,
  -2.9, 3.3, 0.6, -4.2, 2.0, 5.0, -1.1, 1.7, -3.0, 3.9,
  -0.2, 2.3, -3.9, 1.1, -1.8, 3.7, -0.4, -2.9, 2.5, -5.0,
  0.9, -2.3, 2.8, -0.9, -4.7, 1.5, -1.4, 3.1, -3.0, 0.3,
  -2.6, 1.1, -1.0, 3.3, -3.4, -0.2, 1.9, -4.6, 0.8, -1.8,
  -3.9, 0.2, 2.6, -1.6, 0.9, -2.9, -5.3, 1.6, -0.9, 3.0,
  0.6, -2.4, -4.4, 1.5, -1.4, 3.6, -3.1, -0.6, 2.2, -5.4,
  -2.2, 0.7, 3.0, -3.8, -0.9, 1.9, -2.5, 0.4, -4.0, 2.6,
  null, -1.2, null, null, 0.9, null, -3.5, null, null, 1.4,
  null, -2.2, null, 0.2, null, null, null, -5.2, null, null
];
const pink51 = [
  2.1, -1.5, 6.3, 0.4, -3.2, 3.6, -0.6, 1.8, 5.9, -2.4,
  0.9, -4.0, 2.8, -0.3, 4.6, -1.9, 1.3, -8.6, 3.3, 0.0,
  -2.7, 5.1, 1.0, -0.9, 3.9, -3.6, 2.2, 6.5, -1.2, 0.6,
  4.2, -2.1, 1.6, -5.2, 2.9, 0.3, -1.0, 4.9, -3.0, 1.9,
  -0.5, 3.4, -2.8, 0.8, 5.5, -1.6, 2.5, -4.4, 1.2, 7.0,
  -1.1, 2.0, -3.5, 4.1, 0.5, -0.8, 3.0, -5.6, 1.5, 2.7,
  -2.3, 0.7, 5.2, -1.4, 3.7, -3.9, 1.1, 2.4, -0.2, 4.3,
  -4.7, 1.4, 3.2, -1.8, 0.9, 6.1, -2.6, 2.0, -0.4, 3.6,
  -0.8, -4.2, null, 1.5, 6.0, null, -2.5, -5.6, null, 0.9,
  -3.1, null, 1.8, -1.5, null, -4.8, 0.3, null, -2.2, -6.0,
  -1.3, -4.4, 0.5, -2.8, -6.9, -0.7, -3.5, 1.6, -5.1, -2.0,
  -0.4, -7.5, -2.6, 0.9, -4.0, -1.7, -6.1, 2.3, -3.2, -0.9,
  -5.4, -1.8, 1.2, -3.7, -8.4, -2.3, 0.4, -4.5, -1.1, -6.5,
  -2.9, 0.8, -4.2, -1.5, 2.0, -5.8, -3.0, -9.6, -0.6, -3.9,
  1.3, -2.4, -6.2, -0.8, -3.6, 0.5, -4.9, -2.0, 2.4, -5.3,
  -1.7, -3.3, 0.2, -6.7, -2.5, 1.0, -4.4, -0.9, -3.8, -7.1
];
const pink51b = [
  -1.3, 3.0, null, -3.8, 1.2, 4.7, -0.2, null, 2.5, -2.0,
  3.8, 0.6, -2.9, null, 1.7, 5.3, -1.2, 2.4, null, -3.4,
  0.8, -1.5, 3.2, null, -4.1, 1.7, 4.4, -0.6, 2.6, null,
  -2.2, 0.5, 5.6, -1.0, 2.1, -3.6, 0.9, 3.5, null, -0.7,
  2.9, -2.2, 1.4, 4.2, -0.9, null, 3.3, -3.0, 0.4, 2.2,
  4.6, -0.5, 1.9, -2.8, 3.3, null, -1.4, 0.8, 5.0, -3.3,
  1.6, 3.9, -0.9, 2.6, -2.4, 0.3, 6.2, -1.5, 1.8, -3.8,
  2.8, -0.3, 4.5, 0.0, -2.9, 1.9, 3.3, -1.1, 0.6, 2.4,
  1.8, null, -2.0, null, null, -3.5, null, 2.7, null, -1.2,
  null, -4.0, null, 0.6, null, null, -2.7, 1.2, -5.0, null,
  -3.6, 0.2, -2.1, -5.5, -0.9, -3.3, 1.0, -4.2, -1.6, -6.4,
  -2.2, -4.8, 0.6, -3.0, -1.2, -5.7, -2.8, -0.3, -4.4, 1.1,
  -3.4, -0.1, -5.9, -2.0, -4.1, 1.9, -3.1, -6.8, -1.3, -2.6,
  -4.9, -1.6, 0.8, -3.4, -7.2, -2.2, -0.7, -4.3, -5.6, -1.9,
  -3.1, -6.0, -1.0, -4.0, 0.1, -2.9, -5.2, -1.4, -3.8, -0.5,
  -4.6, -1.8, -3.0, 0.5, -5.3, -2.5, -0.6, -4.1, -2.0, -5.5
];
const pink52 = [
  3.4, -0.8, 5.6, 1.2, -2.5, 4.1, 0.3, 6.8, -1.4, 2.7,
  0.6, -3.3, 4.7, 2.0, -0.2, 7.1, 1.5, -2.0, 3.6, 0.0,
  5.2, -1.6, 2.4, -3.9, 3.0, 0.8, 6.3, -0.5, 1.8, -2.8,
  4.0, 1.1, -0.3, -4.6, 2.2, -1.8, 0.5, -5.3, 1.6, -3.0,
  -0.7, 3.2, -2.4, -6.1, 0.9, -1.2, 2.6, -4.0, -0.4, -2.9,
  1.5, -5.5, -2.0, 0.4, -7.3, -3.1, 1.9, -1.0, -4.6, 3.0,
  -2.6, -6.4, 0.7, -3.8, -0.9, -8.2, 2.3, -1.7, -10.6, -4.3,
  0.0, -2.2, 5.0, 1.4, -1.5, 7.2, 3.3, -0.6, 2.1, 4.6,
  -0.3, 2.8, 5.4, 0.5, -2.1, 3.6, 1.2, -0.9, 6.2, 2.3,
  -1.8, 4.0, 0.9, -2.6, 2.7, 1.5, -0.5, 3.9, -3.4, 1.0,
  5.1, -1.2, 2.4, 0.1, 3.3, -2.5, 1.7, 4.6, -0.7, 2.0,
  -3.1, 1.4, 3.8, -1.0, 0.6, 5.5, -2.0, 2.9, 0.3, -4.4,
  1.9, 4.2, 0.0, 3.1, -1.5, 5.8, 2.2, 0.7, 4.5, -0.8,
  3.6, 6.4, 1.0, -1.7, 4.9, 2.6, 7.3, 0.4, 3.2, 5.7,
  -0.6, 2.8, 6.0, 1.5, 4.1, -1.3, 3.5, 7.9, 0.9, 2.4,
  5.2, -0.9, 3.0, 6.6, 1.7, 4.4, -0.2, 8.1, 2.5, 3.9
];
const pink52b = [
  0.9, 4.4, -1.6, 2.7, 5.5, -0.3, 3.2, 1.6, -2.9, 4.0,
  2.8, 0.1, 6.0, -1.2, 3.3, 1.0, 5.0, -0.6, 2.4, 4.8,
  -0.4, 3.9, 1.2, 5.6, -2.0, 2.9, 0.6, 4.1, -1.1, 3.2,
  1.0, -2.4, 2.7, -0.4, 0.9, -3.3, 1.9, -1.1, null, -2.2,
  0.4, -4.1, 1.7, -1.9, null, -3.6, 0.1, -5.0, 2.4, -1.0,
  -3.3, 0.8, -5.8, -1.5, 1.4, -4.0, -0.4, -6.6, -2.1, 0.6,
  -4.9, -0.9, -3.0, 1.2, -6.8, -2.4, -0.2, -5.2, -3.6, 0.9,
  2.3, -0.8, 3.6, 6.0, 0.7, 4.2, -1.1, 2.5, 5.6, 1.3,
  1.9, 4.0, -0.8, 2.5, 0.1, 5.1, -1.7, 3.0, 0.8, -2.6,
  3.6, 0.3, 2.0, -1.4, 4.6, 1.1, -0.4, 2.9, 5.6, -0.9,
  1.4, 3.8, -1.9, 2.2, 0.4, -0.9, 4.2, 1.0, -2.7, 3.4,
  0.6, 2.7, -1.2, 4.6, 1.9, -0.4, 3.1, -2.5, 2.1, 0.8,
  3.6, -0.2, 2.5, 5.2, 0.9, 3.2, -1.0, 4.0, 2.3, 6.2,
  1.4, 4.0, -0.8, 2.6, 5.4, 0.7, 3.9, 2.1, -1.2, 4.7,
  3.3, 0.4, 5.1, 2.0, 6.8, 1.1, 4.3, -0.5, 2.9, 5.9,
  1.8, 4.6, 0.2, 3.5, 6.0, 2.7, 5.0, 1.3, 7.0, 3.1
];
const pink53 = [
  0.4, 3.1, -1.8, 4.5, 1.2, -0.6, 2.7, -3.4, 1.9, 5.0,
  -1.1, 2.2, 0.5, 4.0, -2.6, 3.6, 1.4, -0.9, 5.6, 0.2,
  2.9, -1.7, 1.0, 3.8, -3.1, 0.7, 2.3, -0.4, -2.3, 1.6,
  -1.2, 3.3, -4.0, 0.6, 2.0, -2.1, 0.1, 4.2, -0.8, -3.5,
  1.3, -5.2, 2.6, -0.3, -6.7, 3.5, 0.8, -2.4, 1.5, -4.1,
  0.4, 9.0, -1.6, 4.4, -3.3, -9.4, 2.1, -0.5, 5.8, -2.7,
  1.2, -4.8, 3.0, -1.3, 6.3, -0.2, -5.9, 2.5, -2.0, 0.7,
  -3.6, 4.1, -0.9, 1.8, -6.0, 3.4, -1.5, 0.3, 5.2, -2.8,
  2.6, null, -1.4, 4.4, null, 0.8, 3.3, null, -2.0, 1.7,
  null, 5.3, -0.6, null, 2.2, -3.0, null, 1.2, 4.0, null,
  -1.8, 2.7, null, 0.5, 4.8, -2.4, null, 1.6, -0.3, 3.5,
  null, -1.2, 2.3, null, -6.8, 1.0, 3.9, null, 0.3, -2.6,
  2.8, null, 4.6, -0.8, 1.5, 3.4, -2.2, 5.6, 0.4, -1.0,
  2.2, 6.1, -0.5, 3.7, 1.1, -2.7, 4.5, 0.3, 2.8, -3.6,
  5.0, 1.7, -1.3, 3.3, 0.6, 6.8, 7.9, null, 2.4, -0.9,
  4.2, 1.0, 6.5, -1.7, 3.1, 8.0, 0.5, 5.3, 2.6, -6.0
];
const pink53b = [
  2.3, -0.5, 1.6, 3.8, -2.0, 2.6, 0.8, 4.2, -1.1, 1.9,
  3.2, 0.4, -1.7, 2.5, 4.8, 0.0, 3.0, -2.2, 1.6, 3.5,
  -0.6, 4.0, 2.1, 0.2, 1.1, -2.5, 3.1, 0.6, -1.3, 2.4,
  0.3, -2.8, 1.8, -0.7, 3.3, -1.5, 2.0, -3.7, 0.8, 1.2,
  -2.3, 2.0, -4.6, 0.5, 3.7, -1.9, -0.4, 4.6, -3.2, 1.0,
  -1.4, 2.9, -5.4, 0.8, 6.1, -2.7, 1.9, -4.6, 0.2, 3.4,
  -3.0, 0.9, 4.6, -1.9, -6.0, 1.7, -0.6, 3.0, -4.1, 2.2,
  1.3, -2.4, 2.7, -0.8, 4.4, -3.5, 0.5, -1.9, 2.0, -5.1,
  null, 3.2, null, null, -0.6, null, 2.1, null, null, 4.6,
  -1.5, null, null, 3.0, null, null, 0.6, null, -2.2, null,
  null, 4.1, null, null, -1.2, null, 2.6, null, null, 0.9,
  3.6, null, null, -0.8, null, 2.0, null, null, 5.0, null,
  null, 0.9, -1.8, null, 4.2, null, 1.2, -2.9, null, 3.0,
  -0.2, null, 4.0, 1.4, null, -1.7, 2.8, null, 6.5, 0.6,
  null, 3.4, 0.1, null, 4.7, -1.6, null, 2.2, 5.8, null,
  0.9, 3.8, null, 6.0, -0.7, 2.4, 4.7, null, 1.6, 5.4
];
const pink54 = [
  2.3, -0.5, -6.0, 1.4, 3.6, -2.2, 0.7, 5.0, -1.3, 2.8,
  0.1, 4.3, -3.0, 6.8, 1.6, -0.8, 3.9, -2.4, 1.0, 5.5,
  -1.6, 2.1, 0.4, -3.7, 4.6, 1.3, -0.9, 6.1, 2.5, -2.0,
  0.8, 3.4, -1.2, 1.9, -4.4, 0.2, 2.7, -0.4, 4.0, -2.8,
  1.5, -9.4, 0.6, 3.1, -1.8, 5.4, -0.6, 2.2, -3.5, 1.0,
  4.2, -1.0, 0.3, -2.6, 2.9, 0.9, -4.2, 3.7, -0.2, 1.8,
  -3.1, 2.4, 5.6, -0.7, 1.2, -5.8, 3.2, 0.5, -2.3, -7.9,
  4.5, -1.5, 0.0, 2.8, -3.4, 1.7, -0.9, 3.9, -8.0, 0.4,
  2.6, -1.9, 4.4, 0.3, -2.8, -8.6, 1.5, 3.2, -0.6, 5.2,
  -2.1, 1.0, -3.6, 2.4, 0.2, -1.4, 3.6, -4.5, 0.8, 2.1,
  -0.9, 3.0, -2.5, 0.6, 4.1, -1.7, 1.9, -3.9, 2.7, 0.0,
  3.5, -4.8, null, 0.9, null, null, -4.2, null, -7.6, null,
  1.6, null, null, 3.4, 9.6, -1.2, 5.0, 0.3, 2.6, -2.5,
  4.4, 0.9, -4.5, 2.2, 6.0, -0.8, 3.3, 1.1, -2.9, 4.9,
  0.2, -3.3, 2.7, 5.7, -0.5, 1.6, 7.6, -1.9, 3.0, 0.6,
  -4.4, 2.4, 5.3, -0.3, 1.8, 8.1, -2.6, 3.7, 0.7, 4.6
];
const pink54b = [
  null, 3.0, 0.4, -1.9, null, 4.6, 1.2, -3.3, 2.2, null,
  3.3, -1.4, 0.9, null, 5.0, -2.8, 2.0, null, -0.4, 3.6,
  0.8, -3.0, null, 2.6, -0.9, 4.4, null, 0.1, -2.3, 1.7,
  null, -1.6, 2.3, 0.6, null, 3.8, -2.6, 1.2, null, -0.8,
  2.9, null, -2.2, 0.3, 4.0, null, 1.6, -3.9, null, 2.4,
  -0.5, 2.1, null, -3.2, 1.0, 4.8, null, -1.1, 2.7, 0.2,
  4.2, -1.8, 0.9, 3.1, -4.5, 1.7, null, 2.8, -0.6, 5.0,
  -2.4, 1.0, 3.6, -0.4, 2.3, -3.1, 0.6, 4.3, -1.5, 2.0,
  -0.8, 3.2, -2.3, 1.4, 5.3, null, -1.1, 0.8, null, -3.0,
  1.9, null, -0.7, 3.4, null, -2.6, 0.4, 2.9, null, -1.3,
  2.5, -1.8, null, 1.2, -3.3, 3.8, null, -0.6, 1.8, -4.0,
  null, null, 1.4, null, null, null, -1.6, null, null, null,
  null, null, 0.8, null, 6.4, 2.2, -2.4, 4.0, -0.7, 1.5,
  -1.4, 3.2, 1.0, -3.0, 5.2, 0.5, 2.6, -2.0, 4.2, 0.9,
  3.6, -0.8, 1.9, -4.1, 2.8, 6.4, 0.2, -1.6, 4.6, 1.1,
  2.3, -2.6, 5.8, 0.9, -1.1, 3.9, -5.8, 2.0, 6.8, 0.4
];

const greenSeries  = [green47, green48, green49, green50, green51, green52, green53, green54];
const greenSeriesB = [green47b, green48b, green49b, green50b, green51b, green52b, green53b, green54b];
const pinkSeries   = [pink47, pink48, pink49, pink50, pink51, pink52, pink53, pink54];
const pinkSeriesB  = [pink47b, pink48b, pink49b, pink50b, pink51b, pink52b, pink53b, pink54b];

/* ================= DRAWING ================= */
const FONT = '"Liberation Sans", Arial, sans-serif';
const minus = s => String(s).replace('-', '\u2212');

// axes, ticks and panel labels go on top of the points
const panelFrame = {
  id: 'panelFrame',
  afterDatasetsDraw(chart, args, opts) {
    const { ctx, chartArea: a, scales: { x, y } } = chart;
    ctx.save();
    ctx.strokeStyle = '#000';
    ctx.fillStyle = '#000';

    // left axis
    ctx.lineWidth = 3;
    ctx.beginPath();
    ctx.moveTo(a.left - 1, a.top);
    ctx.lineTo(a.left - 1, a.bottom);
    ctx.stroke();

    ctx.lineWidth = 1.2;
    yMinorTicks.concat(yTickLabels).forEach(v => {
      const py = Math.round(y.getPixelForValue(v)) + 0.5;
      const len = yTickLabels.includes(v) ? 6 : 3;
      ctx.beginPath();
      ctx.moveTo(a.left - 2, py);
      ctx.lineTo(a.left - 2 - len, py);
      ctx.stroke();
    });

    ctx.font = '13px ' + FONT;
    ctx.textAlign = 'right';
    ctx.textBaseline = 'middle';
    yTickLabels.forEach(v => ctx.fillText(minus(v), a.left - 11, y.getPixelForValue(v)));

    // panel annotations
    ctx.font = '11.5px ' + FONT;
    ctx.textAlign = 'left';
    ctx.fillText(minus(opts.step.toFixed(1)) + ' +/\u2212  ' + opts.error.toFixed(1) + ' mm/yr', a.left + 27, a.top + 12);
    ctx.textAlign = 'right';
    ctx.fillText('Profile ' + opts.profile, a.right - 23, a.top + 12);

    // distance axis on the bottom panels
    if (opts.xAxis) {
      ctx.lineWidth = 2.5;
      ctx.beginPath();
      ctx.moveTo(a.left - 2, a.bottom);
      ctx.lineTo(a.right, a.bottom);
      ctx.stroke();
      ctx.lineWidth = 1.2;
      xTickLabels.concat(xMinorTicks).forEach(v => {
        const px = Math.round(x.getPixelForValue(v)) + 0.5;
        const len = xTickLabels.includes(v) ? 6 : 3;
        ctx.beginPath();
        ctx.moveTo(px, a.bottom);
        ctx.lineTo(px, a.bottom + len);
        ctx.stroke();
      });
      ctx.font = '13px ' + FONT;
      ctx.textAlign = 'center';
      ctx.textBaseline = 'middle';
      xTickLabels.forEach(v => ctx.fillText(String(v), x.getPixelForValue(v), a.bottom + 17));
    }
    ctx.restore();
  }
};

function toPoints(xs, ys) {
  return ys.map((v, i) => ({ x: xs[i], y: v })).filter(p => p.y !== null);
}

function makePanel(col, row, values, valuesB, step, error, color) {
  const isLast = row === profiles.length - 1;
  const canvas = document.createElement('canvas');
  canvas.width = 580;
  canvas.height = isLast ? 140 : 100;
  canvas.style.left = (col === 0 ? 0 : 592) + 'px';
  canvas.style.top = Math.round(7 + 104.75 * row) + 'px';
  document.body.appendChild(canvas);

  const points = toPoints(distance, values).concat(toPoints(distanceB, valuesB));

  new Chart(canvas, {
    type: 'scatter',
    data: {
      datasets: [
        { data: [{ x: 0, y: 0 }, { x: 4980, y: 0 }], showLine: true, borderColor: '#000',
          borderWidth: 2, borderDash: [16, 8], pointRadius: 0, order: 1 },
        { data: [{ x: 5120, y: step }, { x: 10000, y: step }], showLine: true, borderColor: '#000',
          borderWidth: 2, borderDash: [16, 8], pointRadius: 0, order: 1 },
        { data: points, pointBackgroundColor: color, pointBorderWidth: 0, pointRadius: 2, order: 2 },
        { data: [{ x: 5000, y: -15.5 }, { x: 5000, y: 15.5 }], showLine: true, borderColor: '#d4d4d4',
          borderWidth: 1, pointRadius: 0, order: 3 }
      ]
    },
    options: {
      responsive: false,
      animation: false,
      devicePixelRatio: 1,
      events: [],
      layout: { padding: { left: 66, right: 29, top: 0, bottom: isLast ? 40 : 0 } },
      scales: {
        x: { type: 'linear', min: 0, max: 10000, display: false },
        y: { type: 'linear', min: -15.5, max: 15.5, display: false }
      },
      plugins: {
        legend: { display: false },
        tooltip: { enabled: false },
        panelFrame: { step, error, profile: profiles[row], xAxis: isLast }
      }
    },
    plugins: [panelFrame]
  });
}

profiles.forEach((p, row) => {
  makePanel(0, row, greenSeries[row], greenSeriesB[row], greenStep[row], greenError[row], '#9acd32');
  makePanel(1, row, pinkSeries[row], pinkSeriesB[row], pinkStep[row], pinkError[row], '#cc8cc4');
});
</script>
</body>
</html>
